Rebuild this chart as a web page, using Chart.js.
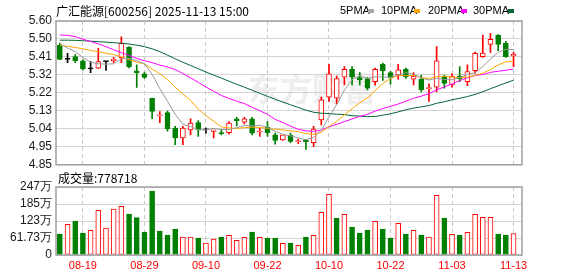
<!DOCTYPE html>
<html>
<head>
<meta charset="utf-8">
<script src="https://cdn.jsdelivr.net/npm/chart.js@4.4.0/dist/chart.umd.min.js"></script>
<style>
body { margin: 0; background: #fff; }
#wrap { position: relative; width: 578px; height: 276px; overflow: hidden; font-family: "Liberation Sans", Arial, sans-serif; }
canvas { position: absolute; left: 0; }
#kline { top: 0; }
#vol { top: 170px; }
.txt { position: absolute; white-space: nowrap; color: #000; }
.sw { position: absolute; width: 6px; height: 4px; top: 9px; }
</style>
</head>
<body>
<div id="wrap">
  <canvas id="kline" width="578" height="176"></canvas>
  <canvas id="vol" width="578" height="106"></canvas>
  <div class="txt" style="left:56px;top:2px;font:12px 'Noto Sans CJK SC',sans-serif;">广汇能源[600256] 2025-11-13 15:00</div>
  <div class="txt" style="left:340px;top:4px;font:11px 'Liberation Sans',sans-serif;">5PMA</div>
  <div class="sw" style="left:368px;background:#aaaaaa;"></div>
  <div class="txt" style="left:381px;top:4px;font:11px 'Liberation Sans',sans-serif;">10PMA</div>
  <div class="sw" style="left:414px;background:#ffa500;"></div>
  <div class="txt" style="left:428px;top:4px;font:11px 'Liberation Sans',sans-serif;">20PMA</div>
  <div class="sw" style="left:461px;background:#ff00ff;"></div>
  <div class="txt" style="left:473px;top:4px;font:11px 'Liberation Sans',sans-serif;">30PMA</div>
  <div class="sw" style="left:508px;background:#006633;"></div>
  <div class="txt" style="left:58px;top:169px;font:12px 'Noto Sans CJK SC',sans-serif;">成交量:778718</div>
</div>
<script>
// trading days shown (2025)
const dates = ['08-14','08-15','08-18','08-19','08-20','08-21','08-22','08-25','08-26','08-27','08-28','08-29',
  '09-01','09-02','09-03','09-04','09-05','09-08','09-09','09-10','09-11','09-12','09-15','09-16','09-17','09-18','09-19','09-22','09-23','09-24','09-25','09-26','09-29','09-30',
  '10-09','10-10','10-13','10-14','10-15','10-16','10-17','10-20','10-21','10-22','10-23','10-24','10-27','10-28','10-29','10-30','10-31',
  '11-03','11-04','11-05','11-06','11-07','11-10','11-11','11-12','11-13'];
const prevClose = 5.47; // close of the day before the first candle

const opens = [5.475,5.400,5.414,5.392,5.350,5.354,5.388,5.392,5.409,5.463,
  5.340,5.324,5.197,5.105,5.122,5.041,4.990,5.032,5.070,5.032,
  5.024,5.017,5.018,5.090,5.072,5.090,5.021,5.046,5.006,4.980,
  5.004,4.970,4.977,4.966,5.084,5.203,5.197,5.307,5.348,5.305,
  5.300,5.284,5.374,5.331,5.319,5.348,5.296,5.296,5.247,5.255,
  5.307,5.267,5.313,5.284,5.341,5.414,5.478,5.527,5.484,5.418];
const highs = [5.485,5.432,5.425,5.397,5.388,5.458,5.390,5.410,5.518,5.466,
  5.371,5.333,5.198,5.128,5.130,5.050,5.050,5.090,5.080,5.041,
  5.030,5.032,5.076,5.098,5.098,5.098,5.041,5.076,5.015,5.008,
  5.015,4.984,4.980,5.050,5.203,5.374,5.313,5.362,5.362,5.331,
  5.305,5.355,5.380,5.338,5.374,5.355,5.331,5.318,5.272,5.466,
  5.318,5.324,5.362,5.371,5.438,5.527,5.536,5.529,5.494,5.437];
const lows = [5.398,5.383,5.383,5.345,5.331,5.352,5.342,5.383,5.383,5.355,
  5.253,5.300,5.090,5.070,5.026,4.955,4.955,5.006,4.998,5.015,
  4.990,5.006,5.010,5.053,5.063,5.006,4.998,4.998,4.958,4.977,
  4.966,4.960,4.930,4.945,5.058,5.180,5.168,5.267,5.267,5.267,
  5.240,5.265,5.290,5.270,5.296,5.300,5.267,5.230,5.180,5.232,
  5.250,5.255,5.284,5.263,5.327,5.410,5.435,5.445,5.410,5.362];
const closes = [5.400,5.400,5.393,5.350,5.350,5.388,5.388,5.402,5.484,5.362,
  5.330,5.306,5.128,5.110,5.037,4.990,5.041,5.067,5.032,5.032,
  5.033,5.013,5.067,5.080,5.090,5.015,5.026,5.018,4.977,5.006,
  4.972,4.975,4.970,5.036,5.189,5.324,5.300,5.348,5.307,5.293,
  5.250,5.348,5.340,5.305,5.345,5.310,5.313,5.241,5.252,5.392,
  5.275,5.310,5.298,5.336,5.432,5.433,5.504,5.478,5.414,5.426];

// volume in 万手
const volumes = [76.3,111.5,123.5,79.9,89.6,162.3,98.0,167.0,176.8,148.9,
  135.6,83.5,232.4,87.2,72.6,94.4,65.4,65.4,61.7,43.6,
  58.1,65.4,71.4,53.3,64.2,83.5,64.2,61.7,61.7,42.4,
  43.6,35.1,65.4,71.4,155.0,220.3,134.4,147.7,101.7,79.9,
  90.8,122.3,94.4,61.7,115.0,76.3,89.6,72.6,65.4,216.7,
  134.4,75.1,72.6,82.3,147.7,136.8,136.8,76.3,72.6,77.87];

const ma5 = [5.484,5.458,5.440,5.410,5.385,5.377,5.375,5.377,5.403,5.405,
  5.393,5.377,5.322,5.247,5.182,5.114,5.061,5.049,5.033,5.032,
  5.040,5.034,5.034,5.044,5.055,5.053,5.056,5.046,5.025,5.008,
  5.001,4.990,4.981,4.993,5.029,5.099,5.164,5.239,5.294,5.314,
  5.300,5.309,5.308,5.307,5.318,5.330,5.323,5.303,5.292,5.302,
  5.295,5.294,5.305,5.322,5.330,5.362,5.401,5.437,5.452,5.451];
const ma10 = [5.474,5.468,5.462,5.455,5.447,5.440,5.432,5.425,5.413,5.398,
  5.385,5.376,5.349,5.325,5.294,5.254,5.219,5.186,5.140,5.107,
  5.077,5.048,5.042,5.039,5.044,5.046,5.045,5.040,5.035,5.032,
  5.027,5.023,5.013,5.009,5.019,5.050,5.077,5.110,5.143,5.172,
  5.199,5.237,5.274,5.300,5.316,5.315,5.316,5.305,5.300,5.310,
  5.312,5.308,5.304,5.307,5.316,5.328,5.347,5.371,5.387,5.391];
const ma20 = [5.527,5.525,5.519,5.505,5.493,5.481,5.466,5.450,5.435,5.420,
  5.405,5.393,5.383,5.370,5.360,5.347,5.326,5.304,5.280,5.256,
  5.234,5.212,5.196,5.182,5.169,5.150,5.132,5.113,5.087,5.070,
  5.052,5.035,5.027,5.024,5.031,5.048,5.061,5.075,5.089,5.102,
  5.113,5.130,5.143,5.155,5.167,5.182,5.197,5.208,5.221,5.241,
  5.256,5.272,5.289,5.304,5.316,5.321,5.332,5.338,5.343,5.350];
const ma30 = [5.500,5.500,5.499,5.497,5.495,5.492,5.490,5.487,5.484,5.480,
  5.474,5.466,5.455,5.440,5.422,5.403,5.385,5.368,5.351,5.334,
  5.318,5.302,5.286,5.270,5.255,5.239,5.223,5.207,5.192,5.177,
  5.163,5.149,5.135,5.124,5.119,5.117,5.114,5.112,5.106,5.104,
  5.101,5.102,5.109,5.116,5.126,5.137,5.146,5.152,5.159,5.171,
  5.179,5.189,5.197,5.206,5.217,5.231,5.247,5.262,5.277,5.291];

const priceTicks = ['4.85','4.95','5.04','5.13','5.22','5.32','5.41','5.50','5.60'];
const volTicks = ['0','61.73万','123万','185万','247万'];
const dateTicks = ['08-19','08-29','09-10','09-22','10-10','10-22','11-03','11-13'];

const RED = '#ff0000', GREEN = '#008000', BLACK = '#000000';

function candleColor(i) {
  if (closes[i] > opens[i]) return RED;
  if (closes[i] < opens[i]) return GREEN;
  let pc = i ? closes[i - 1] : prevClose;
  return closes[i] > pc ? RED : (closes[i] < pc ? GREEN : BLACK);
}
function volUp(i) {
  let pc = i ? closes[i - 1] : prevClose;
  return closes[i] >= pc;
}

let colors = dates.map((d, i) => candleColor(i));

// box round the plot area
const boxPlugin = {
  id: 'box',
  afterDraw(chart) {
    let a = chart.chartArea, ctx = chart.ctx;
    ctx.save();
    ctx.strokeStyle = '#a0a0a0';
    ctx.lineWidth = 1.5;
    ctx.strokeRect(a.left, a.top, a.right - a.left, a.bottom - a.top);
    ctx.restore();
  }
};
const markPlugin = {
  id: 'mark',
  beforeDatasetsDraw(chart) {
    let a = chart.chartArea, ctx = chart.ctx;
    ctx.save();
    ctx.fillStyle = 'rgba(200,200,200,0.3)';
    ctx.font = 'bold 32px "Noto Sans CJK SC"';
    ctx.textAlign = 'center';
    ctx.textBaseline = 'middle';
    ctx.fillText('东方财富', a.left + 256, a.top + 68);
    ctx.restore();
  }
};

const xMin = -0.5, xMax = 60.1;
function xAxis(showLabels) {
  return {
    type: 'linear', min: xMin, max: xMax, offset: false,
    afterBuildTicks: s => { s.ticks = dateTicks.map(d => ({ value: dates.indexOf(d) })); },
    afterFit: s => { s.height = showLabels ? 21 : 0; },
    ticks: { display: showLabels, color: RED, font: { size: 11, family: 'Liberation Sans' }, padding: 4,
      maxRotation: 0, autoSkip: false, callback: v => dates[v] },
    grid: { color: '#c8c8c8', drawTicks: false, lineWidth: 1, offset: false },
    border: { display: false, dash: [4, 3] }
  };
}

const pMin = 4.85, pMax = 5.60;
new Chart(document.getElementById('kline'), {
  type: 'bar',
  data: {
    datasets: [
      { type: 'line', data: ma5.map((v, i) => ({ x: i, y: v })), borderColor: '#999999', borderWidth: 1, pointRadius: 0, order: 0 },
      { type: 'line', data: ma10.map((v, i) => ({ x: i, y: v })), borderColor: '#ffa500', borderWidth: 1, pointRadius: 0, order: 0 },
      { type: 'line', data: ma20.map((v, i) => ({ x: i, y: v })), borderColor: '#ff00ff', borderWidth: 1, pointRadius: 0, order: 0 },
      { type: 'line', data: ma30.map((v, i) => ({ x: i, y: v })), borderColor: '#006633', borderWidth: 1, pointRadius: 0, order: 0 },
      {
        data: dates.map((d, i) => ({ x: i, y: [opens[i], closes[i]] })),
        backgroundColor: colors.map((c, i) => closes[i] > opens[i] ? '#ffffff' : c),
        borderColor: colors, borderWidth: 1, borderSkipped: false,
        barThickness: 5, minBarLength: 1, grouped: false, order: 1
      },
      {
        data: dates.map((d, i) => ({ x: i, y: [lows[i], highs[i]] })),
        backgroundColor: colors, borderWidth: 0,
        barThickness: 1, grouped: false, order: 2
      }
    ]
  },
  options: {
    responsive: false, animation: false, devicePixelRatio: 1, events: [],
    layout: { padding: { top: 21, right: 56, bottom: 11, left: 0 } },
    plugins: { legend: { display: false }, tooltip: { enabled: false } },
    scales: {
      x: xAxis(false),
      y: {
        min: pMin, max: pMax,
        afterBuildTicks: s => { s.ticks = priceTicks.map((t, k) => ({ value: pMin + k * (pMax - pMin) / (priceTicks.length - 1) })); },
        afterFit: s => { s.width = 56; },
        ticks: { color: '#1a1a1a', font: { size: 12, family: 'Liberation Sans' }, padding: 4, autoSkip: false, callback: (v, k) => priceTicks[k] },
        grid: { color: '#d4d4d4', drawTicks: false },
        border: { display: false }
      }
    }
  },
  plugins: [markPlugin, boxPlugin]
});

const vMax = 247;
new Chart(document.getElementById('vol'), {
  type: 'bar',
  data: {
    datasets: [{
      data: volumes.map((v, i) => ({ x: i, y: v })),
      backgroundColor: volumes.map((v, i) => volUp(i) ? '#ffffff' : GREEN),
      borderColor: volumes.map((v, i) => volUp(i) ? RED : GREEN),
      borderWidth: 1, borderSkipped: false, barThickness: 5, grouped: false
    }]
  },
  options: {
    responsive: false, animation: false, devicePixelRatio: 1, events: [],
    layout: { padding: { top: 17, right: 56, bottom: 0, left: 0 } },
    plugins: { legend: { display: false }, tooltip: { enabled: false } },
    scales: {
      x: xAxis(true),
      y: {
        min: 0, max: vMax,
        afterBuildTicks: s => { s.ticks = volTicks.map((t, k) => ({ value: k * vMax / (volTicks.length - 1) })); },
        afterFit: s => { s.width = 56; },
        ticks: { color: '#1a1a1a', font: { size: 12, family: 'Liberation Sans' }, padding: 4, autoSkip: false, callback: (v, k) => volTicks[k] },
        grid: { color: '#d4d4d4', drawTicks: false },
        border: { display: false }
      }
    }
  },
  plugins: [boxPlugin]
});
</script>
</body>
</html>
